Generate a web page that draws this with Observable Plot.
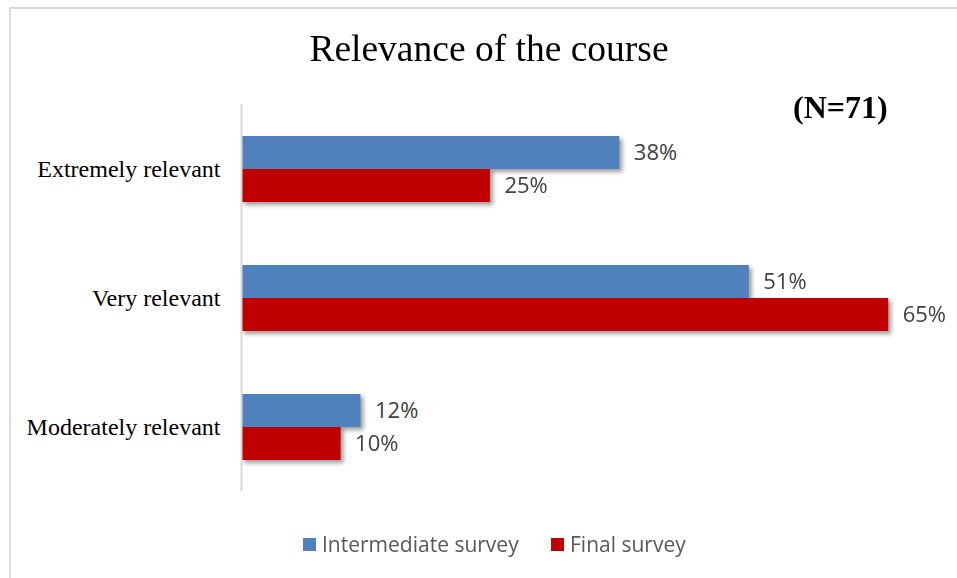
<!DOCTYPE html>
<html>
<head>
<meta charset="utf-8">
<script src="https://cdn.jsdelivr.net/npm/d3@7"></script>
<script src="https://cdn.jsdelivr.net/npm/@observablehq/plot@0.6"></script>
<style>
  html, body { margin: 0; padding: 0; background: #fff; }
  #wrap { position: relative; width: 957px; height: 578px; overflow: hidden; background: #fff; }
  #frame { position: absolute; left: 9px; top: 7px; width: 960px; height: 600px;
           border-left: 2px solid #d9d9d9; border-top: 2px solid #d9d9d9; pointer-events: none; }
  #title { position: absolute; left: 0; width: 978px; top: 27px; text-align: center;
           font-family: "Liberation Serif", serif; font-size: 37.5px; color: #000; line-height: 1.15; }
  #note { position: absolute; left: 793px; top: 89px; font-family: "Liberation Serif", serif;
          font-weight: bold; font-size: 32px; color: #000; line-height: 1.15; }
  #chart { position: absolute; left: 0; top: 0; }
  #chart g[aria-label="bar"] { filter: drop-shadow(3px 3px 2px rgba(0,0,0,0.38)); }
  #legend { position: absolute; top: 530px; left: 0; width: 100%; }
  .item { position: absolute; display: flex; align-items: center;
          font-family: "Open Sans", sans-serif; font-size: 21px; color: #595959; }
  .sw { width: 13px; height: 13px; margin-right: 6px; }
</style>
</head>
<body>
<div id="wrap">
  <div id="chart"></div>
  <div id="frame"></div>
  <div id="title"></div>
  <div id="note"></div>
  <div id="legend"></div>
</div>
<script>
const title = "Relevance of the course";
const note = "(N=71)";
const categories = ["Extremely relevant", "Very relevant", "Moderately relevant"];
const series = ["Intermediate survey", "Final survey"];
const intermediate = [38, 51, 12];
const final = [25, 65, 10];
const colors = ["#4F81BD", "#C00000"];

const data = [];
categories.forEach((c, i) => {
  data.push({category: c, series: series[0], value: intermediate[i]});
  data.push({category: c, series: series[1], value: final[i]});
});

document.getElementById("title").textContent = title;
document.getElementById("note").textContent = note;

const plot = Plot.plot({
  width: 957,
  height: 578,
  marginTop: 103,
  marginBottom: 86,
  marginLeft: 241,
  marginRight: 19,
  style: {background: "transparent", overflow: "visible"},
  x: {domain: [0, 70], axis: null},
  y: {domain: series, axis: null, paddingInner: 0, paddingOuter: 0.935},
  fy: {domain: categories, padding: 0, label: null},
  color: {domain: series, range: colors},
  marks: [
    Plot.axisFy({tickSize: 0, tickPadding: 21, fontSize: 24, label: null,
                 fontFamily: "Liberation Serif, serif", fill: "#000", anchor: "left"}),
    Plot.barX(data, {fy: "category", y: "series", x: "value", fill: "series"}),
    Plot.text(data, {fy: "category", y: "series", x: "value", text: d => d.value + "%",
                     dx: 14, textAnchor: "start", fontSize: 22, fill: "#404040",
                     fontFamily: "Open Sans, sans-serif"}),
    Plot.ruleX([0], {stroke: "#d9d9d9", strokeWidth: 2})
  ]
});
document.getElementById("chart").appendChild(plot);

const legend = document.getElementById("legend");
const lefts = [303, 551];
series.forEach((s, i) => {
  const it = document.createElement("div");
  it.className = "item";
  it.style.left = lefts[i] + "px";
  const sw = document.createElement("span");
  sw.className = "sw";
  sw.style.background = colors[i];
  const t = document.createElement("span");
  t.textContent = s;
  it.appendChild(sw); it.appendChild(t);
  legend.appendChild(it);
});
</script>
</body>
</html>
